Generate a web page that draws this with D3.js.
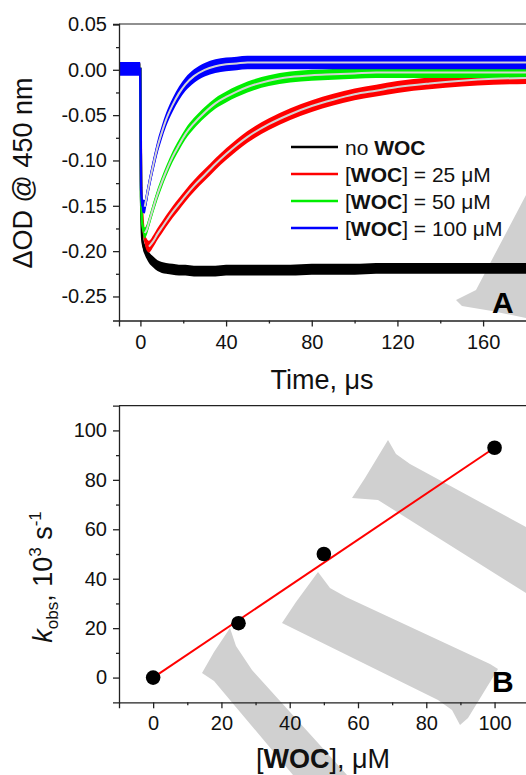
<!DOCTYPE html>
<html lang="en">
<head>
<meta charset="UTF-8">
<title>WOC kinetics</title>
<script src="https://d3js.org/d3.v7.min.js"></script>
<style>
  body { margin: 0; background: #fff; }
  svg { display: block; font-family: "Liberation Sans", Arial, sans-serif; }
  .axis path, .axis line { stroke: #222; stroke-width: 1.3px; }
  .axis text { font-size: 20px; fill: #111; font-family: "Liberation Sans", Arial, sans-serif; }
</style>
</head>
<body>
<svg id="chart" width="526" height="775"></svg>
<script>
// ---- panel A: transient absorption at 450 nm ----
const timeUs = [-10, -0.1, 0.3, 1, 2, 3, 4, 6, 8, 10, 12, 15, 18, 21, 25, 30, 35, 40, 45, 50,
                60, 70, 80, 90, 100, 110, 120, 135, 150, 165, 181];
const odNoWoc = [0.001, 0.001, -0.140, -0.190, -0.198, -0.203, -0.207, -0.212, -0.216, -0.218, -0.219,
                 -0.220, -0.221, -0.221, -0.222, -0.222, -0.222, -0.221, -0.221, -0.221, -0.221, -0.221,
                 -0.220, -0.220, -0.220, -0.219, -0.219, -0.219, -0.219, -0.219, -0.219];
const odWoc25 = [0.001, 0.001, -0.120, -0.165, -0.185, -0.193, -0.195, -0.189, -0.181, -0.174, -0.167,
                 -0.157, -0.148, -0.139, -0.128, -0.116, -0.104, -0.093, -0.083, -0.074, -0.060, -0.049,
                 -0.040, -0.033, -0.027, -0.023, -0.019, -0.015, -0.012, -0.010, -0.009];
const odWoc50 = [0.001, 0.001, -0.140, -0.172, -0.180, -0.176, -0.168, -0.152, -0.137, -0.124, -0.112,
                 -0.096, -0.083, -0.071, -0.059, -0.047, -0.037, -0.030, -0.024, -0.019, -0.012, -0.008,
                 -0.006, -0.005, -0.004, -0.003, -0.003, -0.003, -0.003, -0.003, -0.003];
const odWoc100 = [0.001, 0.001, -0.130, -0.150, -0.151, -0.139, -0.127, -0.105, -0.085, -0.069, -0.055,
                  -0.039, -0.026, -0.016, -0.007, 0.000, 0.004, 0.006, 0.007, 0.008, 0.008, 0.008,
                  0.008, 0.008, 0.008, 0.008, 0.008, 0.008, 0.008, 0.008, 0.008];
const timeTicks = [0, 40, 80, 120, 160];
const timeMinor = [20, 60, 100, 140];
const odTicks = [0.05, 0, -0.05, -0.1, -0.15, -0.2, -0.25];
const odMinor = [0.025, -0.025, -0.075, -0.125, -0.175, -0.225];

// ---- panel B: k_obs vs [WOC] ----
const wocConc = [0, 25, 50, 100];
const kObs = [0, 22, 50, 93];
const fitConc = [0, 100];
const fitK = [0, 93];
const concTicks = [0, 20, 40, 60, 80, 100];
const concMinor = [10, 30, 50, 70, 90];
const kTicks = [0, 20, 40, 60, 80, 100];
const kMinor = [10, 30, 50, 70, 90];

const svg = d3.select("#chart");

// background watermark (decoration of the source figure)
const watermark = [
  "M456,300 L476,290 L526,195 L526,318 L492,311 L462,306 Z",
  "M388,440 L396,454 L410,464 L526,527 L526,593 L378,500 L352,498 L365,478 Z",
  "M318,572 L330,588 L346,597 L490,664 L498,669 L468,718 L460,725 L452,710 L438,700 L282,623 L296,602 Z",
  "M230,628 L236,646 L252,670 L347,775 L293,775 L214,681 L202,673 L214,652 Z"
];
svg.append("g").selectAll("path").data(watermark).enter().append("path")
  .attr("d", d => d).attr("fill", "#d0d0d0");

// ================= panel A =================
const xA = d3.scaleLinear().domain([-10, 180.5]).range([119, 527]);
const yA = d3.scaleLinear().domain([-0.2765, 0.0505]).range([320.5, 24]);

svg.append("clipPath").attr("id", "clipA").append("rect")
  .attr("x", 119).attr("y", 24).attr("width", 408).attr("height", 296.5);

const series = [
  { values: odNoWoc, color: "#000000", band: 0.006, fitFrom: null },
  { values: odWoc25, color: "#ff0000", band: 0.0065, fitFrom: 4 },
  { values: odWoc50, color: "#00ee00", band: 0.006, fitFrom: 2 },
  { values: odWoc100, color: "#0000ff", band: 0.0075, fitFrom: 2 }
];

const gA = svg.append("g").attr("clip-path", "url(#clipA)");

series.forEach(s => {
  const area = d3.area().curve(d3.curveMonotoneX)
    .x((d, i) => xA(timeUs[i]))
    .y0(d => yA(d - s.band))
    .y1(d => yA(d + s.band));
  gA.append("path").datum(s.values).attr("d", area).attr("fill", s.color);
  const line = d3.line().curve(d3.curveMonotoneX)
    .x((d, i) => xA(timeUs[i]))
    .y(d => yA(d));
  gA.append("path").datum(s.values).attr("d", line)
    .attr("fill", "none").attr("stroke", s.color).attr("stroke-width", 2.5);
});

// fitted curves (light lines over the data)
series.filter(s => s.fitFrom !== null).forEach(s => {
  const pts = timeUs.map((t, i) => [t, s.values[i]]).filter(p => p[0] >= s.fitFrom);
  gA.append("path").datum(pts)
    .attr("d", d3.line().curve(d3.curveMonotoneX).x(p => xA(p[0])).y(p => yA(p[1])))
    .attr("fill", "none").attr("stroke", "#d4d4d4").attr("stroke-width", 2);
});

// axes A
svg.append("g").attr("class", "axis").attr("transform", "translate(0,320.5)")
  .call(d3.axisBottom(xA).tickValues(timeTicks).tickSize(6).tickPadding(8).tickFormat(d3.format("d")));
svg.append("g").attr("class", "axis").attr("transform", "translate(0,320.5)")
  .call(d3.axisBottom(xA).tickValues(timeMinor).tickSize(3).tickFormat(""))
  .select(".domain").remove();
svg.append("g").attr("class", "axis").attr("transform", "translate(119,0)")
  .call(d3.axisLeft(yA).tickValues(odTicks).tickSize(6).tickPadding(6).tickFormat(d => d.toFixed(2)));
svg.append("g").attr("class", "axis").attr("transform", "translate(119,0)")
  .call(d3.axisLeft(yA).tickValues(odMinor).tickSize(3).tickFormat(""))
  .select(".domain").remove();
svg.append("line").attr("x1", 119).attr("x2", 527).attr("y1", 24).attr("y2", 24)
  .attr("stroke", "#222").attr("stroke-width", 1.2);

// legend A
const legend = [
  { color: "#000000", parts: [["no ", false], ["WOC", true]] },
  { color: "#ff0000", parts: [["[", false], ["WOC", true], ["] = 25 \u03BCM", false]] },
  { color: "#00ee00", parts: [["[", false], ["WOC", true], ["] = 50 \u03BCM", false]] },
  { color: "#0000ff", parts: [["[", false], ["WOC", true], ["] = 100 \u03BCM", false]] }
];
legend.forEach((l, i) => {
  const y = 147 + i * 27;
  svg.append("line").attr("x1", 291).attr("x2", 338).attr("y1", y).attr("y2", y)
    .attr("stroke", l.color).attr("stroke-width", 2.5);
  const t = svg.append("text").attr("x", 345).attr("y", y + 8).attr("font-size", 21).attr("fill", "#111");
  l.parts.forEach(p => t.append("tspan").attr("font-weight", p[1] ? "bold" : "normal").text(p[0]));
});

svg.append("text").attr("x", 492).attr("y", 313).attr("font-size", 30).attr("font-weight", "bold").text("A");

svg.append("text").attr("x", 322).attr("y", 389).attr("text-anchor", "middle")
  .attr("font-size", 27).attr("fill", "#111").text("Time, \u03BCs");
svg.append("text").attr("transform", "translate(32,173) rotate(-90)").attr("text-anchor", "middle")
  .attr("font-size", 27).attr("fill", "#111").text("\u0394OD @ 450 nm");

// ================= panel B =================
const xB = d3.scaleLinear().domain([-10, 109.5]).range([119, 527]);
const yB = d3.scaleLinear().domain([-10, 110]).range([702.3, 405.7]);

svg.append("path").datum(fitConc.map((c, i) => [c, fitK[i]]))
  .attr("d", d3.line().x(p => xB(p[0])).y(p => yB(p[1])))
  .attr("fill", "none").attr("stroke", "#ff0000").attr("stroke-width", 2);

svg.append("g").selectAll("circle").data(wocConc).enter().append("circle")
  .attr("cx", d => xB(d)).attr("cy", (d, i) => yB(kObs[i])).attr("r", 7.3).attr("fill", "#000");

svg.append("g").attr("class", "axis").attr("transform", "translate(0,702.3)")
  .call(d3.axisBottom(xB).tickValues(concTicks).tickSize(6).tickPadding(8).tickFormat(d3.format("d")));
svg.append("g").attr("class", "axis").attr("transform", "translate(0,702.3)")
  .call(d3.axisBottom(xB).tickValues(concMinor).tickSize(3).tickFormat(""))
  .select(".domain").remove();
svg.append("g").attr("class", "axis").attr("transform", "translate(119,0)")
  .call(d3.axisLeft(yB).tickValues(kTicks).tickSize(6).tickPadding(6).tickFormat(d3.format("d")));
svg.append("g").attr("class", "axis").attr("transform", "translate(119,0)")
  .call(d3.axisLeft(yB).tickValues(kMinor).tickSize(3).tickFormat(""))
  .select(".domain").remove();
svg.append("line").attr("x1", 119).attr("x2", 527).attr("y1", 405.7).attr("y2", 405.7)
  .attr("stroke", "#222").attr("stroke-width", 1.2);

svg.append("text").attr("x", 492).attr("y", 692).attr("font-size", 30).attr("font-weight", "bold").text("B");

const xLabB = svg.append("text").attr("x", 323).attr("y", 768).attr("text-anchor", "middle")
  .attr("font-size", 27).attr("fill", "#111");
xLabB.append("tspan").text("[");
xLabB.append("tspan").attr("font-weight", "bold").text("WOC");
xLabB.append("tspan").text("], \u03BCM");

const yLabB = svg.append("text").attr("transform", "translate(52,577) rotate(-90)")
  .attr("text-anchor", "middle").attr("font-size", 27).attr("fill", "#111");
yLabB.append("tspan").attr("font-style", "italic").text("k");
yLabB.append("tspan").attr("font-size", 17).attr("dy", 6).text("obs");
yLabB.append("tspan").attr("dy", -6).text(", 10");
yLabB.append("tspan").attr("font-size", 17).attr("dy", -11).text("3");
yLabB.append("tspan").attr("dy", 11).text(" s");
yLabB.append("tspan").attr("font-size", 17).attr("dy", -11).text("-1");
</script>
</body>
</html>
